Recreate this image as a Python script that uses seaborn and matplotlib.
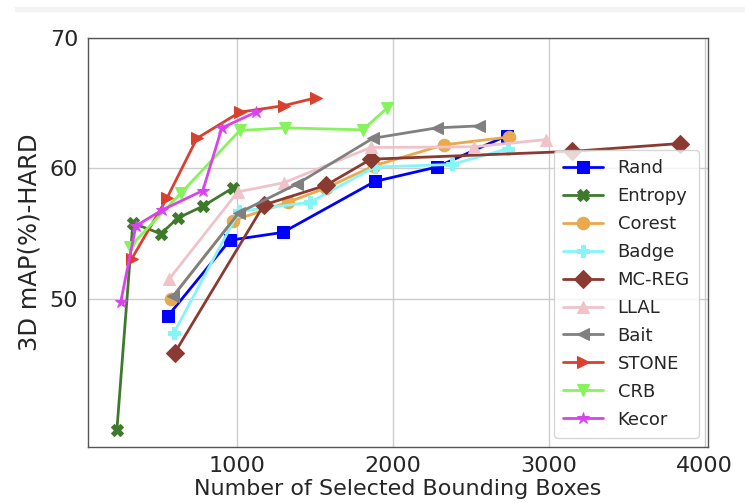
import matplotlib
matplotlib.use("Agg")
import matplotlib.pyplot as plt
import seaborn as sns

# values
rand_x = [558, 955, 1295, 1885, 2282, 2731]
rand_y = [48.7, 54.5, 55.1, 59.0, 60.1, 62.5]
entropy_x = [231, 333, 513, 622, 782, 974]
entropy_y = [40.0, 55.8, 55.0, 56.2, 57.1, 58.5]
corest_x = [577, 974, 1327, 1571, 1880, 2327, 2744]
corest_y = [50.0, 56.0, 57.4, 58.5, 60.2, 61.8, 62.4]
badge_x = [596, 1013, 1468, 1885, 2378, 2737]
badge_y = [47.4, 56.7, 57.4, 60.1, 60.3, 61.5]
mcreg_x = [603, 1173, 1571, 1859, 3147, 3840]
mcreg_y = [45.9, 57.2, 58.7, 60.7, 61.3, 61.9]
llal_x = [564, 1006, 1301, 1859, 2519, 2981]
llal_y = [51.5, 58.2, 58.9, 61.6, 61.65, 62.2]
bait_x = [590, 1013, 1385, 1872, 2282, 2551]
bait_y = [50.2, 56.6, 58.8, 62.3, 63.1, 63.25]
stone_x = [327, 551, 744, 1019, 1301, 1506]
stone_y = [53.1, 57.7, 62.3, 64.3, 64.8, 65.4]
crb_x = [314, 641, 1019, 1308, 1808, 1962]
crb_y = [54.0, 58.1, 62.9, 63.1, 62.95, 64.6]
kecor_x = [256, 353, 519, 782, 904, 1122]
kecor_y = [49.8, 55.6, 56.8, 58.3, 63.1, 64.3]

series = [
    ("Rand", rand_x, rand_y, "s", "#0000ff"),
    ("Entropy", entropy_x, entropy_y, "X", "#3f7a2c"),
    ("Corest", corest_x, corest_y, "o", "#e9a94c"),
    ("Badge", badge_x, badge_y, "P", "#85f5f8"),
    ("MC-REG", mcreg_x, mcreg_y, "D", "#8a3a30"),
    ("LLAL", llal_x, llal_y, "^", "#efc3c9"),
    ("Bait", bait_x, bait_y, "<", "#808080"),
    ("STONE", stone_x, stone_y, ">", "#d9402e"),
    ("CRB", crb_x, crb_y, "v", "#86f35c"),
    ("Kecor", kecor_x, kecor_y, "*", "#d744ee"),
]

sns.set_style("whitegrid")
plt.rcParams['font.family'] = ['DejaVu Sans']

fig, ax = plt.subplots(figsize=(7.45, 5.03), dpi=100)
fig.subplots_adjust(left=0.118, right=0.95, top=0.925, bottom=0.112)

for name, xs, ys, mk, col in series:
    sns.lineplot(x=xs, y=ys, marker=mk, color=col, label=name, ax=ax,
                 markersize=9, linewidth=2, markeredgecolor=col, sort=False)

ax.set_xlim(45, 4020)
ax.set_ylim(38.7, 70)
ax.set_xticks([1000, 2000, 3000, 4000])
ax.set_yticks([50, 60, 70])
ax.tick_params(labelsize=16)
ax.set_xlabel("Number of Selected Bounding Boxes", fontsize=16, labelpad=2)
ax.set_ylabel("3D mAP(%)-HARD", fontsize=17.5, labelpad=6)
for s in ax.spines.values():
    s.set_color("#555555")
    s.set_linewidth(1)
ax.grid(color="#cccccc", linewidth=1)

leg = ax.legend(loc="lower right", fontsize=13, handlelength=2.2,
                labelspacing=0.55, borderpad=0.5, framealpha=0.8)

# faint gray band at the top of the screenshot
fig.patches.append(plt.Rectangle((0.02, 0.978), 0.98, 0.008, transform=fig.transFigure,
                                 color="#f3f3f3", zorder=0))

fig.savefig("out.png", dpi=100)
